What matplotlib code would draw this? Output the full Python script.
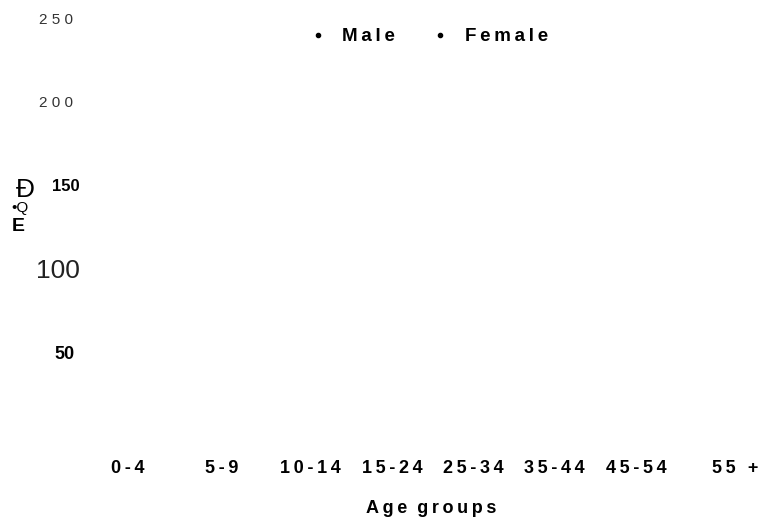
import matplotlib.pyplot as plt
from matplotlib.lines import Line2D
from matplotlib.transforms import ScaledTranslation

# Data (no bars are visible in the chart, so every value is zero)
age_groups = ["0-4", "5-9", "10-14", "15-24", "25-34", "35-44", "45-54", "55 +"]
male = [0, 0, 0, 0, 0, 0, 0, 0]
female = [0, 0, 0, 0, 0, 0, 0, 0]
y_ticks = [50, 100, 150, 200, 250]

FAM = ["Liberation Sans", "DejaVu Sans"]
plt.rcParams["font.family"] = FAM


def spaced(s, sep="\u2009"):
    return sep.join(s)


def nudge(txt, dx_px, dy_px=0):
    txt.set_transform(txt.get_transform() +
                      ScaledTranslation(dx_px / 100, dy_px / 100,
                                        fig.dpi_scale_trans))


fig = plt.figure(figsize=(7.66, 5.25), dpi=100)
ax = fig.add_axes([0.111, 0.1695, 0.889, 0.796])

x = list(range(len(age_groups)))
w = 0.35
ax.bar([i - w / 2 for i in x], male, width=w, color="#1f77b4", linewidth=0)
ax.bar([i + w / 2 for i in x], female, width=w, color="#ff7f0e", linewidth=0)

ax.set_xlim(-0.5, 7.355)
ax.set_ylim(0, 250)

# x tick labels (the original spacing is slightly uneven)
ax.set_xticks(x)
ax.set_xticklabels([spaced(a) for a in age_groups], fontsize=13,
                   fontweight="bold")
ax.tick_params(axis="x", length=0, pad=17)
for lab, dx in zip(ax.get_xticklabels(), [-1, 7, 9, 4, -2, -8, -12, 0]):
    nudge(lab, dx)

# y tick labels, each in its own odd style
ax.set_yticks(y_ticks)
ax.set_yticklabels(["50", "100", "150", spaced("200", " "), spaced("250", " ")])
ax.tick_params(axis="y", length=0, pad=5)
styles = {
    "50": dict(fontsize=13, fontweight="bold", color="black", dx=-4),
    "100": dict(fontsize=19, fontweight="normal", color="#222222", dx=2),
    "150": dict(fontsize=12, fontweight="bold", color="black", dx=2),
}
for lab in ax.get_yticklabels():
    st = styles.get(lab.get_text(), dict(fontsize=11, fontweight="normal",
                                          color="#333333", dx=-5))
    lab.set_fontsize(st["fontsize"])
    lab.set_fontweight(st["fontweight"])
    lab.set_color(st["color"])
    nudge(lab, st["dx"])

for s in ax.spines.values():
    s.set_visible(False)

ax.set_xlabel(spaced("Age") + "  " + spaced("groups"), fontsize=13,
              fontweight="bold", labelpad=17)
nudge(ax.xaxis.label, 6)

# garbled y label pieces
fig.text(18 / 766, 1 - 227 / 525, "E", fontsize=14, fontweight="bold",
         ha="center", va="center")
fig.text(20 / 766, 1 - 208 / 525, "\u2022Q", fontsize=11,
         ha="center", va="center")
fig.text(25 / 766, 1 - 190 / 525, "Ð", fontsize=19,
         ha="center", va="center")

# legend
handles = [Line2D([], [], marker="o", color="black", linestyle="none",
                  markersize=3),
           Line2D([], [], marker="o", color="black", linestyle="none",
                  markersize=3)]
ax.legend(handles, [spaced("Male"), spaced("Female")], loc="upper center",
          bbox_to_anchor=(0.504, 1.016), ncol=2, frameon=False,
          prop=dict(weight="bold", size=13.5), handletextpad=0.8,
          columnspacing=1.9, handlelength=1.0)

fig.savefig("out.png", dpi=100)
